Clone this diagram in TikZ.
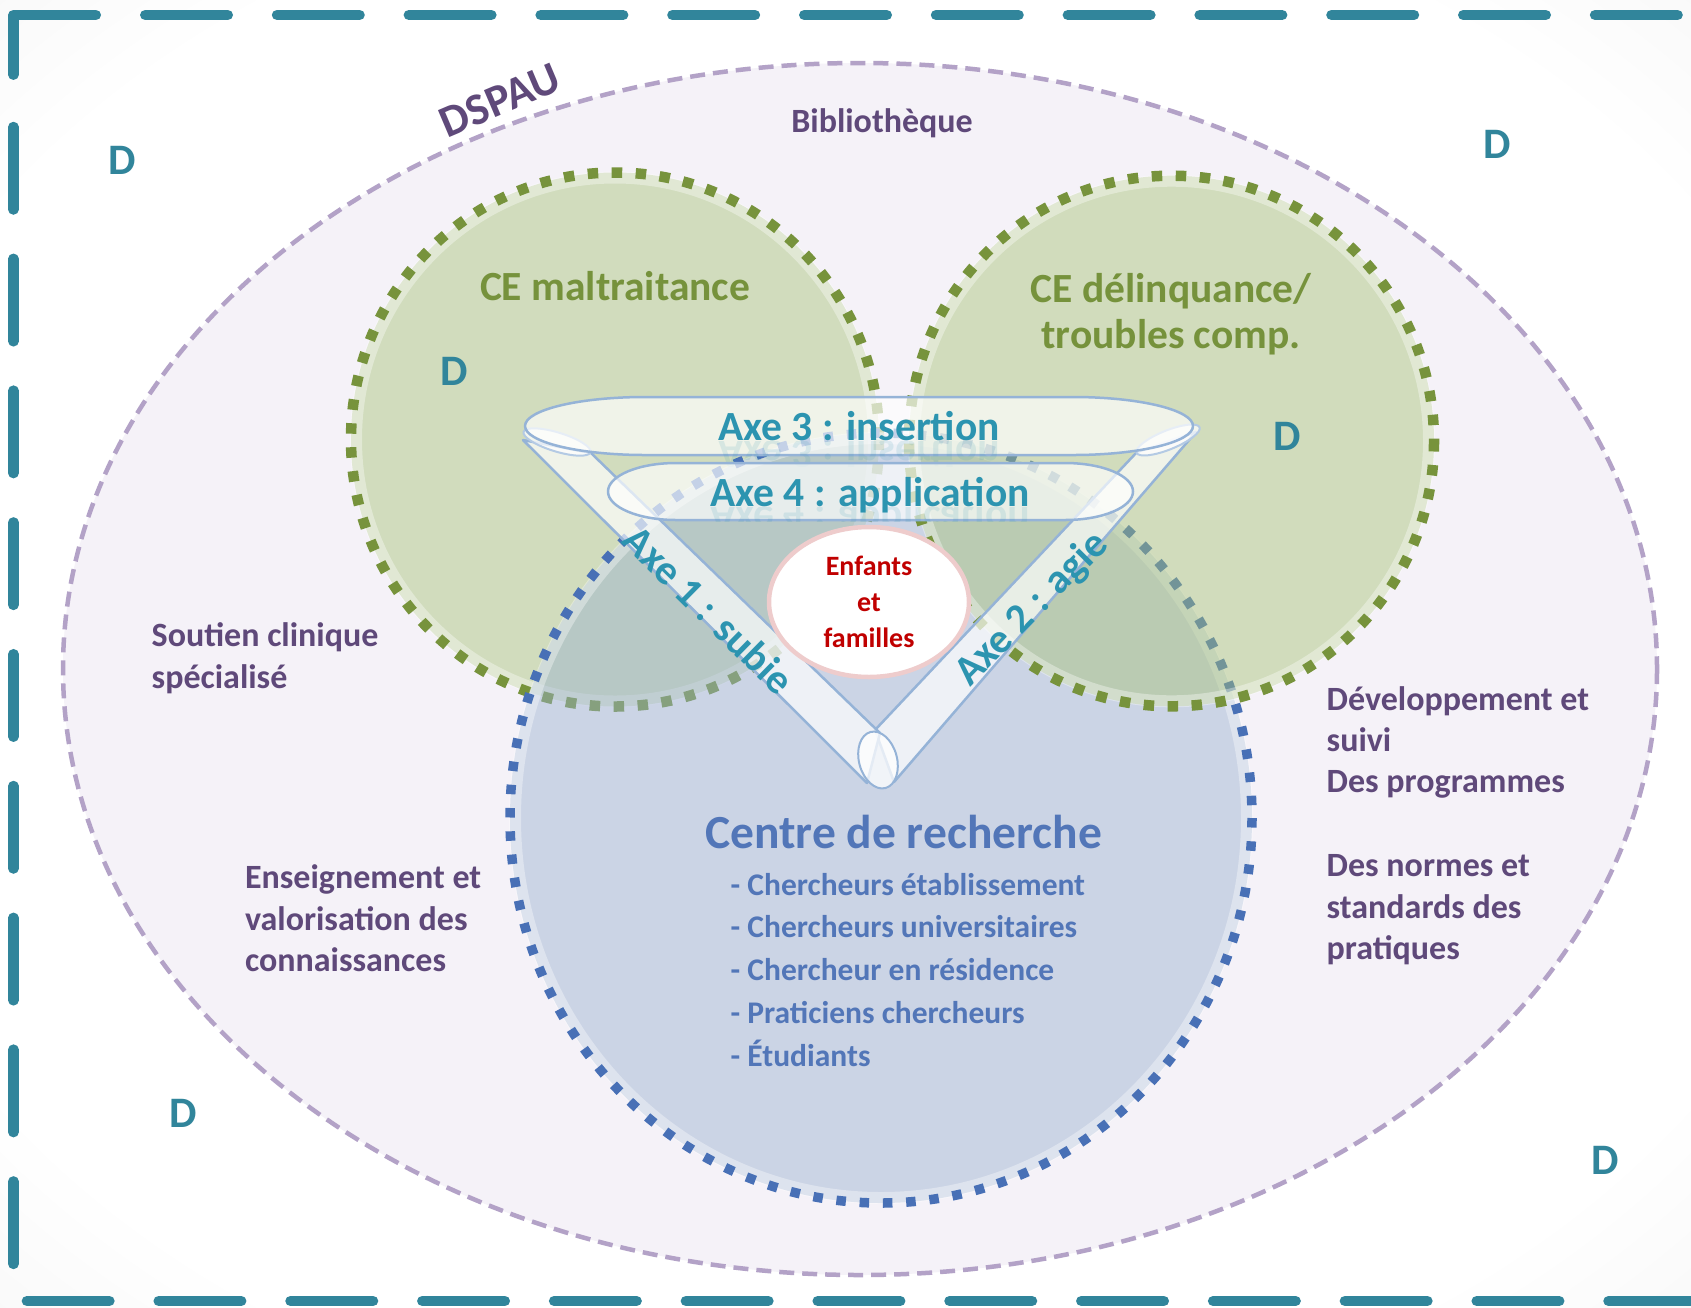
\documentclass[tikz,border=0pt]{standalone}
\usepackage{fontspec}
\setmainfont{Carlito}
\definecolor{bggray}{RGB}{234,234,234}
\pgfdeclareradialshading{bgshade}{\pgfpoint{0bp}{0bp}}{color(0bp)=(white); color(30bp)=(white); color(50bp)=(bggray)}
\definecolor{frameteal}{RGB}{49,133,155}
\definecolor{dteal}{RGB}{49,133,155}
\definecolor{axeteal}{RGB}{44,148,176}
\definecolor{purpletext}{RGB}{95,73,122}
\definecolor{lavline}{RGB}{179,162,199}
\definecolor{lavfill}{RGB}{245,242,248}
\definecolor{greenfill}{RGB}{209,220,189}
\definecolor{greenfillT}{RGB}{166,194,117}
\definecolor{greendot}{RGB}{119,147,60}
\definecolor{greentext}{RGB}{118,146,60}
\definecolor{bluefillT}{RGB}{153,176,208}
\definecolor{bluedot}{RGB}{72,112,182}
\definecolor{bluetext}{RGB}{82,118,184}
\definecolor{bandline}{RGB}{149,179,215}
\definecolor{capline}{RGB}{180,202,228}
\definecolor{enfline}{RGB}{238,204,204}
\definecolor{enftext}{RGB}{192,0,0}
\newcommand{\leftstack}[2]{\vtop{\baselineskip=#1\relax\lineskiplimit=-100pt\lineskip=0pt\halign{##\hfil\cr #2\crcr}}}
\newcommand{\centerstack}[2]{\vtop{\baselineskip=#1\relax\lineskiplimit=-100pt\lineskip=0pt\halign{\hfil##\hfil\cr #2\crcr}}}
\begin{document}
\begin{tikzpicture}[x=1pt, y=-1pt,
  lab/.style={inner sep=0pt, outer sep=0pt},
  dlab/.style={lab, text=dteal, font=\fontsize{43.5}{50}\selectfont\bfseries},
  side/.style={lab, text=purpletext, font=\fontsize{34}{41.5}\selectfont\bfseries},
  cetext/.style={lab, text=greentext, font=\fontsize{41.5}{46}\selectfont\bfseries},
  axetext/.style={lab, text=axeteal, font=\fontsize{41.5}{48}\selectfont\bfseries},
  axerefl/.style={axetext, text opacity=.13},
  crtext/.style={lab, text=bluetext, font=\fontsize{47.5}{55}\selectfont\bfseries},
  crlist/.style={lab, text=bluetext, font=\fontsize{31.5}{43}\selectfont\bfseries},
  enftxt/.style={lab, text=enftext, font=\fontsize{28}{36}\selectfont\bfseries},
  band/.style={fill=white, fill opacity=.68, draw=bandline, line width=2.5pt, line join=round},
  capshape/.style={fill=white, fill opacity=.75, draw=capline, line width=2pt},
  framedash/.style={draw=frameteal, line width=10.5pt, line cap=round, line join=round},
  frameseq/.style={framedash, dash pattern=on 82.5pt off 49.3pt},
  greendots/.style={draw=greendot, line width=10.5pt, dash pattern=on 10.5pt off 13.5pt},
  bluedots/.style={draw=bluedot, line width=9.5pt, dash pattern=on 9.5pt off 13.8pt},
  glow/.style={draw=white, draw opacity=.35, line width=12pt},
]
\useasboundingbox (0,0) rectangle (1691,1307);
\clip (0,0) rectangle (1691,1307);
\shade[shading=bgshade] (0,0) rectangle (1691,1307);

% outer dashed frame
\draw[framedash] (13.4,74.7) -- (13.4,15) -- (95.8,15);
\draw[frameseq] (145.25,15) -- (1730,15);
\draw[frameseq] (13.4,127) -- (13.4,1265);
\draw[frameseq] (26.9,1301) -- (1730,1301);

% DSPAU ellipse
\draw[fill=lavfill, draw=lavline, line width=4.5pt, dash pattern=on 15pt off 8pt]
  (860,669) ellipse[x radius=797, y radius=606];

% left green circle
\fill[greenfill] (615,439.5) ellipse[x radius=264, y radius=267];
\draw[glow] (615,439.5) ellipse[x radius=259, y radius=262];
\draw[greendots] (615,439.5) ellipse[x radius=264, y radius=267];

% blue circle
\fill[bluefillT, fill opacity=.45] (881,818) ellipse[x radius=371, y radius=385];
\draw[glow] (881,818) ellipse[x radius=366, y radius=380];
\draw[bluedots] (881,818) ellipse[x radius=371, y radius=385];

% right green circle
\fill[greenfillT, fill opacity=.45] (1171.5,441) ellipse[x radius=262.5, y radius=265.3];
\draw[glow] (1171.5,441) ellipse[x radius=257.5, y radius=260.3];
\draw[greendots] (1171.5,441) ellipse[x radius=262.5, y radius=265.3];

% circle titles
\node[cetext, anchor=base] (cemal) at (615,300) {CE maltraitance};
\node[cetext, anchor=base] (cedel) at (1171,302) {\centerstack{46pt}{CE délinquance/\cr troubles comp.}};
\node[crtext, anchor=base] (crtitle) at (903.7,848.3) {Centre de recherche};
\node[crlist, anchor=base west] (crlst) at (730.7,895) {\leftstack{42.9pt}{- Chercheurs établissement\cr - Chercheurs universitaires\cr - Chercheur en résidence\cr - Praticiens chercheurs\cr - Étudiants}};

% triangle ribbon: Axe 2 band (behind), Axe 1 band
\draw[band] (875,730) -- (1137,452) -- (1196,432) -- (894,782) -- cycle;
\draw[band] (523,440) -- (591,453) -- (880,733) -- (867,783) -- cycle;
\draw[capshape, rotate around={-17:(557,442)}] (557,442) ellipse[x radius=35, y radius=9.5];
\draw[capshape, rotate around={22:(1168,440)}] (1168,440) ellipse[x radius=34, y radius=9.5];
\draw[capshape, draw=bandline, rotate around={15:(878,760)}] (878,760) ellipse[x radius=19, y radius=29];

% Axe 3 pill
\draw[band] (645,397) -- (1073,397) arc[start angle=-90, end angle=90, x radius=120, y radius=29]
  -- (645,455) arc[start angle=90, end angle=270, x radius=120, y radius=29] -- cycle;
\node[axetext, anchor=base] (axe3) at (859,440) {Axe 3 : insertion};
\begin{scope}
  \clip (500,441) rectangle (1200,466);
  \begin{scope}[shift={(859,440)}]
    \node[axerefl, anchor=base, yscale=-1] (axe3r) at (0,0) {Axe 3 : insertion};
  \end{scope}
\end{scope}

% Axe 4 pill
\draw[band] (676,463) -- (1065,463) arc[start angle=-90, end angle=90, x radius=68, y radius=28.5]
  -- (676,520) arc[start angle=90, end angle=270, x radius=68, y radius=28.5] -- cycle;
\node[axetext, anchor=base] (axe4) at (870,506) {Axe 4 : application};
\begin{scope}
  \clip (590,507) rectangle (1150,521);
  \begin{scope}[shift={(870,506)}]
    \node[axerefl, anchor=base, yscale=-1] (axe4r) at (0,0) {Axe 4 : application};
  \end{scope}
\end{scope}

% Axe 1 and Axe 2 labels
\begin{scope}[shift={(699,620)}]
  \node[axetext, anchor=base, rotate=-44.5] (axe1) at (0,0) {Axe 1 : subie};
\end{scope}
\begin{scope}[shift={(1040,617)}]
  \node[axetext, anchor=base, rotate=45.4] (axe2) at (0,0) {Axe 2 : agie};
\end{scope}

% Enfants et familles
\draw[fill=white, draw=enfline, line width=4.5pt] (869,602) ellipse[x radius=100, y radius=75];
\node[enftxt, anchor=base] (enf) at (869,575) {\centerstack{36pt}{Enfants\cr et\cr familles}};

% side labels
\node[side, anchor=base] (biblio) at (882,132.6) {Bibliothèque};
\node[side, anchor=base west] (soutien) at (151.7,646.7) {\leftstack{41.5pt}{Soutien clinique\cr spécialisé}};
\node[side, anchor=base west] (enseign) at (245,888.3) {\leftstack{41.7pt}{Enseignement et\cr valorisation des\cr connaissances}};
\node[side, anchor=base west] (devel) at (1326.7,710) {\leftstack{41pt}{Développement et\cr suivi\cr Des programmes}};
\node[side, anchor=base west] (normes) at (1326.7,876.7) {\leftstack{41.3pt}{Des normes et\cr standards des\cr pratiques}};

% DSPAU
\begin{scope}[shift={(500,100)}]
  \node[lab, text=purpletext, font=\fontsize{45}{50}\selectfont\bfseries, rotate=23] (dspau) at (0,0) {DSPAU};
\end{scope}

% D labels
\node[dlab] (d1) at (122,160) {D};
\node[dlab] (d2) at (1497,144.5) {D};
\node[dlab] (d3) at (454,371) {D};
\node[dlab] (d4) at (1287,436) {D};
\node[dlab] (d5) at (183,1113) {D};
\node[dlab] (d6) at (1605,1160) {D};
\end{tikzpicture}
\end{document}
